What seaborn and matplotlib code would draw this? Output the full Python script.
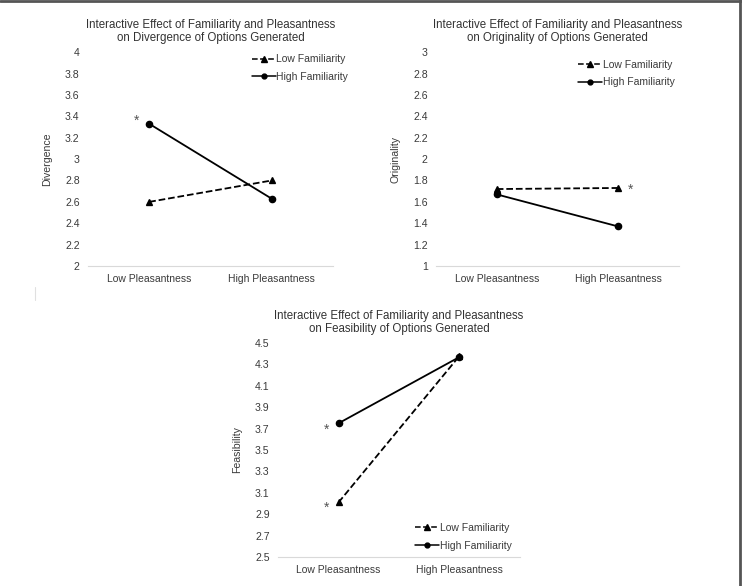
import pandas as pd
import numpy as np
import matplotlib.pyplot as plt
from matplotlib.lines import Line2D
import seaborn as sns

# Datos
condiciones = ['Low Pleasantness', 'High Pleasantness']
grupos = ['Low Familiarity', 'High Familiarity']

divergencia_baja = [2.60, 2.80]
divergencia_alta = [3.33, 2.63]

originalidad_baja = [1.72, 1.73]
originalidad_alta = [1.67, 1.37]

factibilidad_baja = [3.01, 4.38]
factibilidad_alta = [3.75, 4.37]

sns.set_style('white')
plt.rcParams['font.family'] = ['Liberation Sans', 'DejaVu Sans']

texto = '#3a3a3a'


def tabla(baja, alta):
    return pd.DataFrame({
        'Pleasantness': condiciones * 2,
        'Familiarity': [grupos[0]] * 2 + [grupos[1]] * 2,
        'Valor': list(baja) + list(alta),
    })


def panel(ax, baja, alta, titulo, etiqueta, ymin, ymax, paso, loc_leyenda, ancla, estrellas):
    df = tabla(baja, alta)
    sns.pointplot(data=df, x='Pleasantness', y='Valor', hue='Familiarity',
                  hue_order=grupos, order=condiciones,
                  palette=['black', 'black'], markers=['^', 'o'],
                  linestyles=['--', '-'], markersize=4.5, linewidth=1.3,
                  errorbar=None, ax=ax, legend=False)
    ax.set_xlim(-0.5, 1.5)
    ax.set_ylim(ymin, ymax)
    ticks = np.round(np.arange(ymin, ymax + paso / 2, paso), 2)
    ax.set_yticks(ticks)
    ax.set_yticklabels([f'{t:g}' for t in ticks])
    for s in ['top', 'right', 'left']:
        ax.spines[s].set_visible(False)
    ax.spines['bottom'].set_color('#d9d9d9')
    ax.spines['bottom'].set_linewidth(0.8)
    ax.tick_params(axis='both', length=0, labelsize=7.6, colors=texto)
    ax.tick_params(axis='y', pad=6)
    ax.tick_params(axis='x', labelsize=7.5, pad=6)
    ax.set_xlabel('')
    ax.set_ylabel(etiqueta, fontsize=7.6, color=texto, labelpad=9)
    ax.set_title(titulo, fontsize=8.3, color='#333333', pad=8, linespacing=1.12)

    manejadores = [
        Line2D([], [], color='black', linestyle='--', marker='^', markersize=4, linewidth=1.1),
        Line2D([], [], color='black', linestyle='-', marker='o', markersize=3.5, linewidth=1.1),
    ]
    leg = ax.legend(manejadores, grupos, loc=loc_leyenda, bbox_to_anchor=ancla,
                    frameon=False, fontsize=7.5, handlelength=2.3, handletextpad=0.05,
                    labelspacing=0.75, borderaxespad=0, borderpad=0.2)
    for t in leg.get_texts():
        t.set_color(texto)

    for (x, y) in estrellas:
        ax.text(x, y, '*', fontsize=10, color='#555555', ha='center', va='center')


fig = plt.figure(figsize=(7.42, 5.86), dpi=100)

ax1 = fig.add_axes([0.1186, 0.546, 0.330, 0.365])
ax2 = fig.add_axes([0.5876, 0.546, 0.3275, 0.365])
ax3 = fig.add_axes([0.3747, 0.0495, 0.326, 0.365])

panel(ax1, divergencia_baja, divergencia_alta,
      'Interactive Effect of Familiarity and Pleasantness\non Divergence of Options Generated',
      'Divergence', 2, 4, 0.2, 'upper right', (1.07, 1.0), [(-0.1, 3.36)])
panel(ax2, originalidad_baja, originalidad_alta,
      'Interactive Effect of Familiarity and Pleasantness\non Originality of Options Generated',
      'Originality', 1, 3, 0.2, 'upper right', (0.99, 0.975), [(1.1, 1.71)])
panel(ax3, factibilidad_baja, factibilidad_alta,
      'Interactive Effect of Familiarity and Pleasantness\non Feasibility of Options Generated',
      'Feasibility', 2.5, 4.5, 0.2, 'lower right', (0.975, 0.02), [(-0.1, 3.69), (-0.1, 2.96)])

# Marco gris del recuadro original
fig.add_artist(Line2D([0, 1], [0.998, 0.998], transform=fig.transFigure, color='#555555', linewidth=2))
fig.add_artist(Line2D([0.9975, 0.9975], [0, 1], transform=fig.transFigure, color='#555555', linewidth=2))
fig.add_artist(Line2D([0.047, 0.047], [0.488, 0.510], transform=fig.transFigure, color='#e0e0e0', linewidth=0.8))

fig.savefig('out.png', dpi=100)
